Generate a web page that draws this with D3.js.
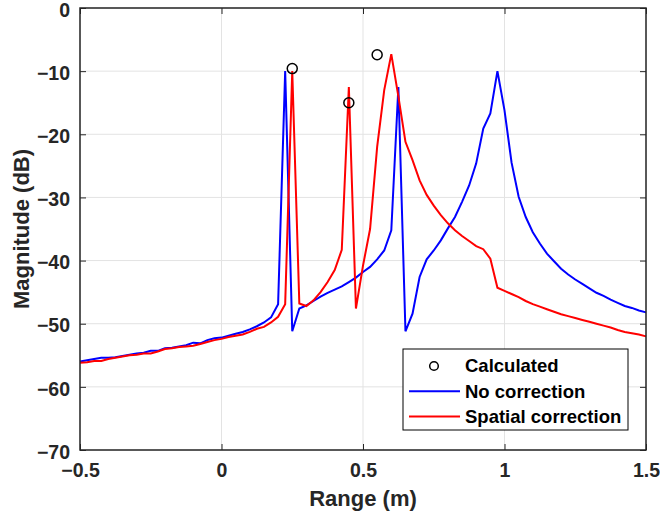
<!DOCTYPE html>
<html>
<head>
<meta charset="utf-8">
<script src="https://cdn.jsdelivr.net/npm/d3@7"></script>
<style>
  body { margin: 0; background: #fff; }
  svg text { font-family: "Liberation Sans", Arial, Helvetica, sans-serif; font-weight: bold; fill: #262626; }
</style>
</head>
<body>
<div id="chart"></div>
<script>
// range samples (m)
var rangeM = [-0.5, -0.475, -0.45, -0.425, -0.4, -0.375, -0.35, -0.325, -0.3, -0.275,
  -0.25, -0.225, -0.2, -0.175, -0.15, -0.125, -0.1, -0.075, -0.05, -0.025,
  0, 0.025, 0.05, 0.075, 0.1, 0.125, 0.15, 0.175, 0.2, 0.225,
  0.25, 0.275, 0.3, 0.325, 0.35, 0.375, 0.4, 0.425, 0.45, 0.475,
  0.5, 0.525, 0.55, 0.575, 0.6, 0.625, 0.65, 0.675, 0.7, 0.725,
  0.75, 0.775, 0.8, 0.825, 0.85, 0.875, 0.9, 0.925, 0.95, 0.975,
  1, 1.025, 1.05, 1.075, 1.1, 1.125, 1.15, 1.175, 1.2, 1.225,
  1.25, 1.275, 1.3, 1.325, 1.35, 1.375, 1.4, 1.425, 1.45, 1.475, 1.5];

// magnitude (dB), no correction
var noCorrection = [-56.0, -55.8, -55.6, -55.4, -55.4, -55.3, -55.1, -54.9, -54.7, -54.6,
  -54.3, -54.3, -53.9, -53.8, -53.6, -53.4, -53.0, -53.1, -52.6, -52.3,
  -52.2, -51.9, -51.6, -51.3, -50.9, -50.4, -49.8, -49.0, -46.9, -10.0,
  -51.2, -47.6, -47.1, -46.4, -45.7, -45.1, -44.6, -44.1, -43.4, -42.7,
  -41.8, -41.0, -39.8, -38.4, -35.2, -12.5, -51.2, -48.4, -42.6, -39.8,
  -38.4, -36.8, -34.9, -33.1, -30.7, -28.1, -24.6, -19.1, -16.7, -10.0,
  -16.2, -24.5, -29.9, -33.1, -35.5, -37.3, -38.9, -40.1, -41.3, -42.2,
  -43.0, -43.7, -44.4, -45.1, -45.6, -46.2, -46.7, -47.2, -47.5, -47.9, -48.2];

// magnitude (dB), spatial correction
var spatialCorrection = [-56.2, -56.1, -55.9, -55.9, -55.6, -55.4, -55.2, -55.0, -54.9, -54.7,
  -54.7, -54.4, -54.0, -53.9, -53.7, -53.6, -53.5, -53.2, -52.9, -52.6,
  -52.4, -52.1, -51.9, -51.7, -51.3, -50.8, -50.5, -49.8, -48.9, -46.9,
  -10.0, -46.8, -47.2, -46.3, -45.0, -43.4, -41.5, -38.3, -12.5, -47.6,
  -40.8, -35.0, -22.0, -13.0, -7.3, -14.0, -21.2, -24.1, -27.3, -29.6,
  -31.3, -32.8, -34.1, -35.2, -36.1, -36.9, -37.7, -38.2, -39.7, -44.3,
  -44.8, -45.3, -45.8, -46.4, -46.9, -47.3, -47.7, -48.1, -48.5, -48.8,
  -49.1, -49.4, -49.7, -50.0, -50.3, -50.6, -51.0, -51.3, -51.5, -51.7, -52.0];

// calculated targets
var calcRange = [0.25, 0.45, 0.55];
var calcMag = [-9.6, -15.0, -7.4];

var xTicks = [-0.5, 0, 0.5, 1, 1.5];
var yTicks = [0, -10, -20, -30, -40, -50, -60, -70];
var legendNames = ["Calculated", "No correction", "Spatial correction"];

var margin = {top: 8, right: 14, bottom: 70, left: 80},
    width = 660 - margin.left - margin.right,
    height = 520 - margin.top - margin.bottom;

var svg = d3.select("#chart")
  .append("svg")
    .attr("width", 660)
    .attr("height", 520)
  .append("g")
    .attr("transform", "translate(" + margin.left + "," + margin.top + ")");

var x = d3.scaleLinear().domain([-0.5, 1.5]).range([0, width]);
var y = d3.scaleLinear().domain([-70, 0]).range([height, 0]);

// grid
svg.append("g").selectAll("line.gx").data(xTicks).enter().append("line")
  .attr("x1", d => x(d)).attr("x2", d => x(d))
  .attr("y1", 0).attr("y2", height)
  .attr("stroke", "#e3e3e3").attr("stroke-width", 1);
svg.append("g").selectAll("line.gy").data(yTicks).enter().append("line")
  .attr("x1", 0).attr("x2", width)
  .attr("y1", d => y(d)).attr("y2", d => y(d))
  .attr("stroke", "#e3e3e3").attr("stroke-width", 1);

// lines
var line = d3.line()
  .x(function(d, i) { return x(rangeM[i]); })
  .y(function(d) { return y(d); });

svg.append("path")
  .datum(noCorrection)
  .attr("fill", "none")
  .attr("stroke", "#0000ff")
  .attr("stroke-width", 2)
  .attr("d", line);

svg.append("path")
  .datum(spatialCorrection)
  .attr("fill", "none")
  .attr("stroke", "#ff0000")
  .attr("stroke-width", 2)
  .attr("d", line);

svg.append("g").selectAll("circle").data(calcMag).enter().append("circle")
  .attr("cx", (d, i) => x(calcRange[i]))
  .attr("cy", d => y(d))
  .attr("r", 5)
  .attr("fill", "none")
  .attr("stroke", "#000")
  .attr("stroke-width", 1.5);

// axes, ticks inside like matlab
function styleAxis(g) {
  g.select(".domain").remove();
  g.selectAll(".tick line").attr("stroke", "#262626").attr("stroke-width", 1);
  g.selectAll(".tick text").style("font-size", "19.5px");
}
svg.append("g")
  .attr("transform", "translate(0," + height + ")")
  .call(d3.axisBottom(x).tickValues(xTicks).tickSize(-6).tickPadding(13).tickFormat(d3.format("")))
  .call(styleAxis);
svg.append("g")
  .call(d3.axisLeft(y).tickValues(yTicks).tickSize(-6).tickPadding(10).tickFormat(d3.format("")))
  .call(styleAxis)
  .selectAll(".tick text").attr("dy", "0.42em");
svg.append("g")
  .call(d3.axisTop(x).tickValues(xTicks).tickSize(-6).tickFormat(""))
  .call(styleAxis);
svg.append("g")
  .attr("transform", "translate(" + width + ",0)")
  .call(d3.axisRight(y).tickValues(yTicks).tickSize(-6).tickFormat(""))
  .call(styleAxis);

svg.append("rect")
  .attr("width", width).attr("height", height)
  .attr("fill", "none").attr("stroke", "#262626").attr("stroke-width", 1.5);

// labels
svg.append("text")
  .attr("x", width / 2).attr("y", height + 56)
  .attr("text-anchor", "middle")
  .style("font-size", "22px")
  .text("Range (m)");
svg.append("text")
  .attr("transform", "translate(" + (-51) + "," + (height / 2) + ") rotate(-90)")
  .attr("text-anchor", "middle")
  .style("font-size", "22px")
  .text("Magnitude (dB)");

// legend
var leg = svg.append("g").attr("transform", "translate(" + (403 - margin.left) + "," + (349 - margin.top) + ")");
leg.append("rect")
  .attr("width", 225).attr("height", 81)
  .attr("fill", "#fff").attr("stroke", "#000").attr("stroke-width", 1);
var rows = leg.selectAll("g.row").data(legendNames).enter().append("g")
  .attr("transform", (d, i) => "translate(0," + (17 + i * 25.2) + ")");
rows.append("text")
  .attr("x", 62).attr("dy", "0.35em")
  .style("font-size", "18.5px")
  .style("fill", "#000")
  .text(d => d);
rows.filter((d, i) => i === 0).append("circle")
  .attr("cx", 31).attr("r", 4.3)
  .attr("fill", "none").attr("stroke", "#000").attr("stroke-width", 1.5);
rows.filter((d, i) => i > 0).append("line")
  .attr("x1", 6).attr("x2", 57)
  .attr("stroke", (d, i) => i === 0 ? "#0000ff" : "#ff0000")
  .attr("stroke-width", 2);
</script>
</body>
</html>
